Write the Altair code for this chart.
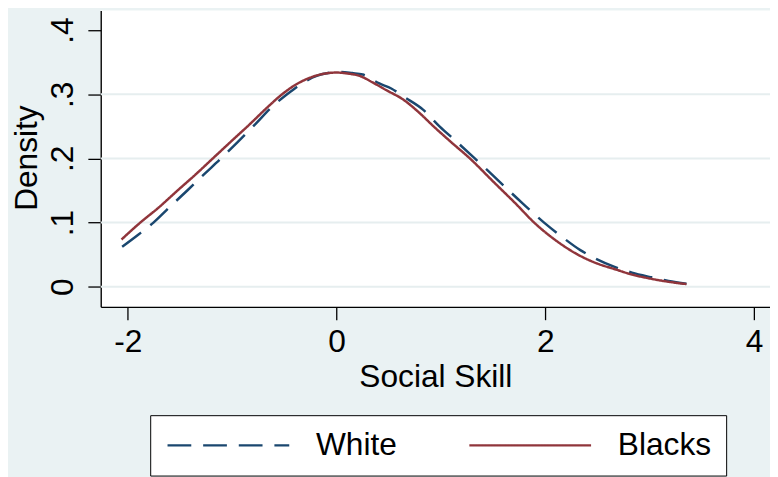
import altair as alt
import pandas as pd

# ---- data ----
groups = ["White", "Blacks"]

white_x = [-2.054, -1.90, -1.754, -1.60, -1.43, -1.27, -1.106, -0.95, -0.78, -0.62,
           -0.474, -0.33, -0.19, -0.08, 0.03, 0.15, 0.25, 0.41, 0.524, 0.645,
           0.828, 0.986, 1.15, 1.324, 1.52, 1.782, 1.988, 2.152, 2.335, 2.445,
           2.657, 2.83, 3.008, 3.18, 3.352]
white_y = [0.0622, 0.081, 0.100, 0.124, 0.150, 0.175, 0.200, 0.225, 0.253, 0.280,
           0.300, 0.317, 0.3287, 0.333, 0.3349, 0.333, 0.3307, 0.3168, 0.309, 0.296,
           0.276, 0.250, 0.226, 0.200, 0.170, 0.130, 0.100, 0.0787, 0.0571, 0.0468,
           0.0313, 0.022, 0.015, 0.009, 0.0046]

black_x = [-2.06, -1.88, -1.70, -1.53, -1.35, -1.185, -1.00, -0.82, -0.66, -0.521,
           -0.38, -0.25, -0.12, 0.0, 0.12, 0.22, 0.35, 0.474, 0.645, 0.80,
           0.929, 1.10, 1.277, 1.50, 1.719, 1.893, 2.098, 2.319, 2.50, 2.667,
           2.83, 2.983, 3.17, 3.352]
black_y = [0.0736, 0.100, 0.124, 0.149, 0.175, 0.200, 0.228, 0.255, 0.280, 0.300,
           0.316, 0.326, 0.332, 0.3338, 0.332, 0.3287, 0.318, 0.3066, 0.291, 0.270,
           0.250, 0.225, 0.200, 0.164, 0.129, 0.100, 0.0725, 0.0494, 0.036, 0.0273,
           0.019, 0.0134, 0.008, 0.0041]

x_ticks = [-2, 0, 2, 4]
y_ticks = [0, 0.1, 0.2, 0.3, 0.4]
grid_y = [0, 0.1, 0.2, 0.3]

df = pd.concat([
    pd.DataFrame({"x": white_x, "y": white_y, "group": "White"}),
    pd.DataFrame({"x": black_x, "y": black_y, "group": "Blacks"}),
], ignore_index=True)

FONT = "Liberation Sans"
BG = "#EAF2F3"
W, H = 676.3, 299.5

xscale = alt.Scale(domain=[-2.259, 4.152], nice=False, zero=False)
yscale = alt.Scale(domain=[-0.0313, 0.4306], nice=False, zero=False)

common_axis = dict(
    domainColor="black", domainWidth=1.4, tickColor="black", tickWidth=1.3,
    labelFont=FONT, labelFontSize=32, labelColor="black",
    titleFont=FONT, titleFontSize=32, titleFontWeight="normal", titleColor="black",
    grid=False, labelFlush=False, labelOverlap=False,
)

y_axis = alt.Axis(
    values=y_ticks, title="Density",
    labelExpr="replace(toString(datum.value), '0.', '.')",
    labelAngle=270, labelAlign="center", labelBaseline="bottom",
    tickSize=13, labelPadding=9,
    titleX=-65, titleY=148.7, titleAngle=270, titleBaseline="alphabetic",
    titleAlign="center", **common_axis)

x_axis = alt.Axis(
    values=x_ticks, title="Social Skill", labelExpr="toString(datum.value)",
    tickSize=13, labelPadding=7,
    titleX=W / 2, titleY=81, titleBaseline="alphabetic", titleAlign="center",
    titleAngle=0, **common_axis)

grid = alt.Chart(pd.DataFrame({"g": grid_y})).mark_rule(
    color="#E6EEEF", strokeWidth=2
).encode(y=alt.Y("g:Q", scale=yscale, axis=y_axis, title="Density"))

legend = alt.Legend(
    orient="none", legendX=50, legendY=409, direction="horizontal", title=None,
    labelFont=FONT, labelFontSize=32, labelColor="black",
    symbolType="M-8,0H8", symbolSize=236.4, symbolStrokeWidth=2.5,
    symbolOffset=48.5, labelOffset=72.5, columnPadding=67, padding=14.5,
    strokeColor="black", fillColor="white",
)

lines = alt.Chart(df).mark_line(strokeWidth=2.5, interpolate="monotone").encode(
    x=alt.X("x:Q", scale=xscale, axis=x_axis),
    y=alt.Y("y:Q", scale=yscale, axis=y_axis, title="Density"),
    color=alt.Color("group:N", scale=alt.Scale(domain=groups, range=["#1A476F", "#90353B"]),
                    legend=legend),
    strokeDash=alt.StrokeDash("group:N", scale=alt.Scale(domain=groups, range=[[24, 12], [1, 0]]),
                              legend=legend),
)

chart = alt.layer(grid, lines).properties(
    width=W, height=H,
    padding={"left": 93.7, "top": 0, "right": 0, "bottom": 170},
    autosize=alt.AutoSizeParams(type="none"),
    background=BG,
).configure_view(stroke=None, fill="white")

chart.save("out.html", embed_options={"renderer": "svg", "actions": False})
